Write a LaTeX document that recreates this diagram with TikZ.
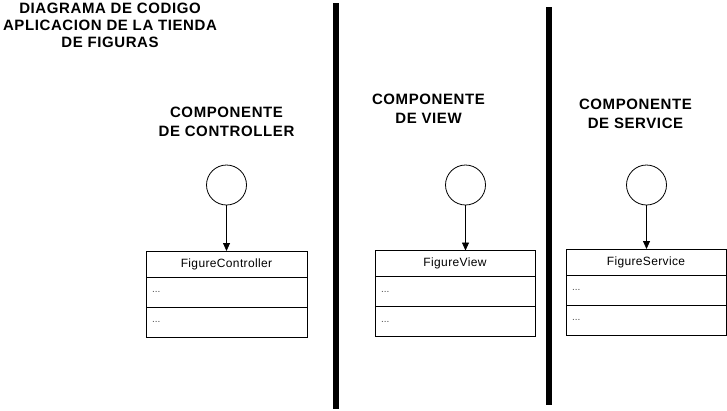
\documentclass[tikz,border=0pt]{standalone}
\usepackage{fontspec}
\setmainfont{Liberation Sans}
\newfontfamily\titlefont[LetterSpace=4]{Liberation Sans}
\newfontfamily\boxfont[LetterSpace=3]{Liberation Sans}
\usetikzlibrary{arrows.meta}
\begin{document}
\begin{tikzpicture}[x=1pt,y=-1pt,
  heading/.style={font=\titlefont\bfseries\fontsize{15}{19}\selectfont, align=center, inner sep=0pt},
  divider/.style={line width=6pt, black},
  iface/.style={circle, draw, line width=0.8pt, minimum size=40pt, inner sep=0pt},
  hdr/.style={draw, line width=0.8pt, outer sep=0pt, minimum width=#1, minimum height=26pt, inner sep=0pt, font=\boxfont\fontsize{12}{14}\selectfont},
  row/.style={draw, line width=0.8pt, outer sep=0pt, minimum width=#1, minimum height=30pt, inner sep=0pt, text width=#1-12pt, align=left, font=\fontsize{10}{12}\selectfont, text=black!70},
  link/.style={line width=0.8pt, -{Triangle[length=8pt,width=7pt]}}
]
\useasboundingbox (0,0) rectangle (727,410);
% title
\node[heading, font=\titlefont\bfseries\fontsize{15}{17}\selectfont] (title) at (110,25.5) {DIAGRAMA DE CODIGO\\APLICACION DE LA TIENDA\\DE FIGURAS};
% dividers
\coordinate (d1t) at (335.5,3); \coordinate (d1b) at (335.5,409);
\coordinate (d2t) at (549,7); \coordinate (d2b) at (549,405);
\draw[divider] (d1t) -- (d1b);
\draw[divider] (d2t) -- (d2b);
% headings
\node[heading] (hc) at (226.5,122) {COMPONENTE\\DE CONTROLLER};
\node[heading] (hv) at (428.5,109) {COMPONENTE\\DE VIEW};
\node[heading] (hs) at (635.5,114) {COMPONENTE\\DE SERVICE};
% controller
\node[iface] (ic) at (226.5,185) {};
\node[hdr=161pt] (bc) at (226.5,264) {FigureController};
\node[row=161pt, anchor=north] (bc1) at (bc.south) {...};
\node[row=161pt, anchor=north] (bc2) at (bc1.south) {...};
\draw[link] (ic) -- (ic |- bc.north);
% view
\node[iface] (iv) at (465.5,185) {};
\node[hdr=160pt] (bv) at (455,263.5) {FigureView};
\node[row=160pt, anchor=north] (bv1) at (bv.south) {...};
\node[row=160pt, anchor=north] (bv2) at (bv1.south) {...};
\draw[link] (iv) -- (iv |- bv.north);
% service
\node[iface] (is) at (646.5,185) {};
\node[hdr=160pt] (bs) at (646,262) {FigureService};
\node[row=160pt, anchor=north] (bs1) at (bs.south) {...};
\node[row=160pt, anchor=north] (bs2) at (bs1.south) {...};
\draw[link] (is) -- (is |- bs.north);
\end{tikzpicture}
\end{document}
